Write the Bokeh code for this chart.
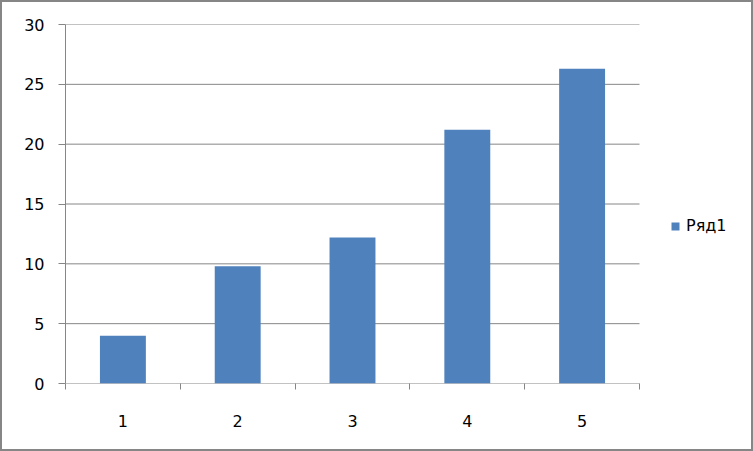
from bokeh.plotting import figure
from bokeh.models import Range1d, FixedTicker, Legend, LegendItem, ColumnDataSource
from bokeh.embed import file_html
from bokeh.resources import INLINE

categories = [1, 2, 3, 4, 5]
category_labels = ["1", "2", "3", "4", "5"]
values = [4.0, 9.8, 12.2, 21.2, 26.3]
series_name = "Ряд1"
y_ticks = [0, 5, 10, 15, 20, 25, 30]

GRAY = "#868686"
BAR = "#4F81BD"
FONT = "DejaVu Sans"
FSIZE = "16px"

W, H = 753, 451
BORDER = 2
LEFT, TOP, BOTTOM = 63, 22, 70
PLOT_W = 574                              # width of the category area in px
FRAME_W = W - LEFT                        # frame runs to the right edge so the legend is not clipped
x0 = categories[0] - 0.5
x1 = categories[-1] + 0.5
x_end = x0 + (x1 - x0) * FRAME_W / PLOT_W

p = figure(width=W, height=H, output_backend="svg", toolbar_location=None,
           x_range=Range1d(x0, x_end), y_range=Range1d(0, 30),
           min_border_left=LEFT, min_border_right=0, min_border_top=TOP, min_border_bottom=BOTTOM,
           background_fill_color="white", border_fill_color="white",
           outline_line_color=None)
p.styles = {"border": f"{BORDER}px solid {GRAY}"}

# horizontal gridlines (stop at the end of the category area)
p.segment(x0=[x0] * len(y_ticks), x1=[x1] * len(y_ticks), y0=y_ticks, y1=y_ticks,
          line_color=GRAY, line_width=1)

src = ColumnDataSource(dict(x=categories, top=values))
r = p.vbar(x="x", top="top", width=0.4, source=src, fill_color=BAR, line_color=None)

# y axis
p.yaxis.ticker = FixedTicker(ticks=y_ticks)
p.yaxis.axis_line_color = GRAY
p.yaxis.major_tick_line_color = GRAY
p.yaxis.major_tick_out = 7
p.yaxis.major_tick_in = 0
p.yaxis.minor_tick_line_color = None
p.yaxis.major_label_standoff = 14
p.yaxis.major_label_text_font = FONT
p.yaxis.major_label_text_font_size = FSIZE
p.yaxis.major_label_text_color = "black"

# x axis (line drawn by the 0 gridline segment)
p.xaxis.ticker = FixedTicker(ticks=categories, minor_ticks=[c - 0.5 for c in categories] + [categories[-1] + 0.5])
p.xaxis.major_label_overrides = {c: l for c, l in zip(categories, category_labels)}
p.xaxis.axis_line_color = None
p.xaxis.major_tick_line_color = None
p.xaxis.minor_tick_line_color = GRAY
p.xaxis.minor_tick_out = 6
p.xaxis.minor_tick_in = 0
p.xaxis.major_label_standoff = 25
p.xaxis.major_label_text_font = FONT
p.xaxis.major_label_text_font_size = FSIZE
p.xaxis.major_label_text_color = "black"

p.xgrid.grid_line_color = None
p.ygrid.grid_line_color = None

legend = Legend(items=[LegendItem(label=series_name, renderers=[r])],
                location=(605, 148), margin=0, padding=0, border_line_color=None,
                background_fill_alpha=0, glyph_width=10, glyph_height=10,
                label_standoff=6, label_height=10, label_text_font=FONT,
                label_text_font_size=FSIZE, label_text_color="black")
p.add_layout(legend, "center")

open("out.html", "w").write(file_html(p, INLINE))
